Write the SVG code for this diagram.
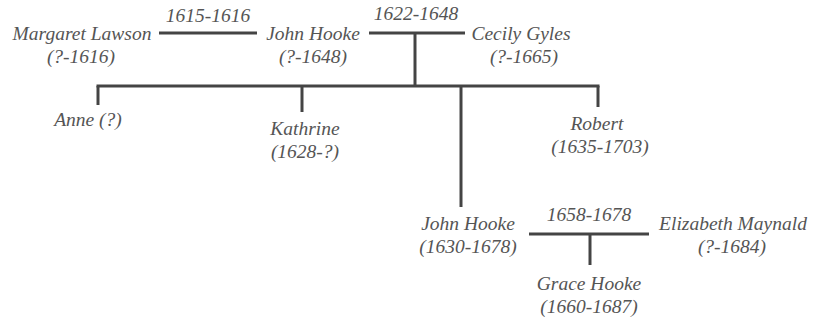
<svg xmlns="http://www.w3.org/2000/svg" width="813" height="320" viewBox="0 0 813 320">
<style>
text{font-family:"Liberation Serif","Times New Roman",serif;font-style:italic;font-size:19.5px;fill:#555;text-anchor:middle}
.c line{stroke:#444;stroke-width:3}
</style>
<rect width="813" height="320" fill="#fff"/>
<g class="c" id="connectors">
<line x1="159" y1="33" x2="257" y2="33"/>
<line x1="369" y1="33" x2="465" y2="33"/>
<line x1="415" y1="33" x2="415" y2="86"/>
<line x1="96.5" y1="86" x2="599.5" y2="86"/>
<line x1="98" y1="86" x2="98" y2="105"/>
<line x1="302" y1="86" x2="302" y2="112"/>
<line x1="598" y1="86" x2="598" y2="107"/>
<line x1="461" y1="86" x2="461" y2="207"/>
<line x1="529" y1="234" x2="649" y2="234"/>
<line x1="590" y1="234" x2="590" y2="265"/>
</g>
<g id="labels">
<text x="208" y="22">1615-1616</text>
<text x="416" y="20">1622-1648</text>
<text x="589" y="221">1658-1678</text>
</g>
<g id="margaret"><text x="82" y="40">Margaret Lawson</text><text x="81" y="63">(?-1616)</text></g>
<g id="john1"><text x="313" y="40">John Hooke</text><text x="313" y="63">(?-1648)</text></g>
<g id="cecily"><text x="521" y="40">Cecily Gyles</text><text x="524" y="63">(?-1665)</text></g>
<g id="anne"><text x="88" y="126">Anne (?)</text></g>
<g id="kathrine"><text x="305" y="135">Kathrine</text><text x="305" y="158">(1628-?)</text></g>
<g id="robert"><text x="597" y="130">Robert</text><text x="600" y="153">(1635-1703)</text></g>
<g id="john2"><text x="468" y="230">John Hooke</text><text x="468" y="253">(1630-1678)</text></g>
<g id="elizabeth"><text x="733" y="230">Elizabeth Maynald</text><text x="732" y="253">(?-1684)</text></g>
<g id="grace"><text x="589" y="290">Grace Hooke</text><text x="589" y="313">(1660-1687)</text></g>
</svg>
